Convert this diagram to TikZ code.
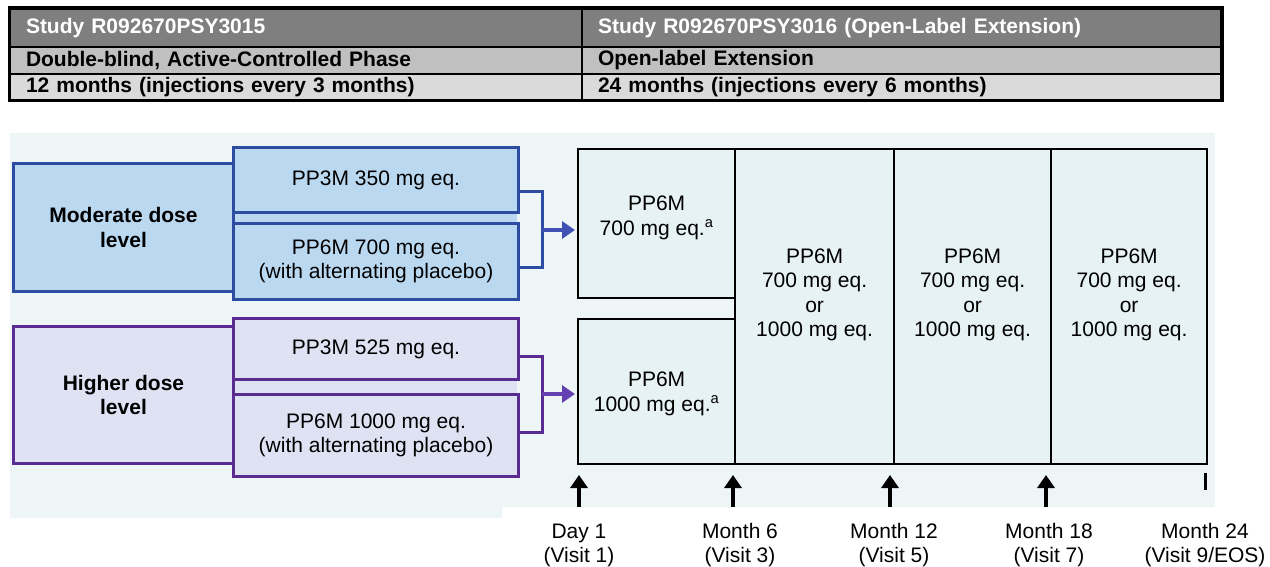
\documentclass[tikz,border=0pt]{standalone}
\usepackage{fontspec}
\setmainfont{Liberation Sans}
\usetikzlibrary{arrows.meta,calc}

\definecolor{hdrgray}{HTML}{7F7F7F}
\definecolor{rowgray}{HTML}{C0C0C0}
\definecolor{rowlight}{HTML}{DADADA}
\definecolor{panelbg}{HTML}{EEF5F7}
\definecolor{modfill}{HTML}{BBD8F1}
\definecolor{modline}{HTML}{2D4DA3}
\definecolor{modarrow}{HTML}{3F52B4}
\definecolor{hifill}{HTML}{DEE2F3}
\definecolor{hiline}{HTML}{5A2C92}
\definecolor{hiarrow}{HTML}{6440B0}
\definecolor{phasefill}{HTML}{E6F2F4}

\tikzset{
  cell/.style={draw=black, line width=2pt, anchor=north west, inner xsep=16pt,
    inner ysep=0pt, align=left, font=\fontsize{21}{24}\selectfont\bfseries},
  hdrcell/.style={cell, fill=hdrgray, text=white},
  rowcell/.style={cell, fill=rowgray},
  lightcell/.style={cell, fill=rowlight},
  modbox/.style={draw=modline, fill=modfill, line width=3pt, anchor=north west,
    inner sep=0pt, align=center},
  hibox/.style={draw=hiline, fill=hifill, line width=3pt, anchor=north west,
    inner sep=0pt, align=center},
  phase/.style={draw=black, fill=phasefill, line width=2.2pt, anchor=north west,
    inner sep=0pt},
  doselabel/.style={font=\fontsize{21}{24.5}\selectfont\bfseries, align=center},
  armtext/.style={font=\fontsize{21}{24}\selectfont},
  phasetext/.style={font=\fontsize{21}{24.5}\selectfont, align=center},
  visitlabel/.style={font=\fontsize{21}{24}\selectfont, align=center},
  modbracket/.style={draw=modline, line width=3pt},
  hibracket/.style={draw=hiline, line width=3pt},
  modflow/.style={draw=modarrow, line width=4pt, -{Triangle[length=13pt,width=17pt]}},
  hiflow/.style={draw=hiarrow, line width=4pt, -{Triangle[length=13pt,width=17pt]}},
  visitarrow/.style={draw=black, line width=3.5pt, -{Triangle[length=13pt,width=17pt]}}
}

\begin{document}
\begin{tikzpicture}[x=1pt, y=-1pt]
\useasboundingbox (0,0) rectangle (1270,567);

% ---- study header table ----
\node[hdrcell, minimum width=572pt, minimum height=38pt, text width=540pt] (s1) at (9,8) {Study R092670PSY3015};
\node[hdrcell, minimum width=639pt, minimum height=38pt, text width=607pt] (s2) at (581,8) {Study R092670PSY3016 (Open-Label Extension)};
\node[rowcell, minimum width=572pt, minimum height=27pt, text width=540pt] (p1) at (9,46) {Double-blind, Active-Controlled Phase};
\node[rowcell, minimum width=639pt, minimum height=27pt, text width=607pt] (p2) at (581,46) {Open-label Extension};
\node[lightcell, minimum width=572pt, minimum height=26pt, text width=540pt] (d1) at (9,73) {12 months (injections every 3 months)};
\node[lightcell, minimum width=639pt, minimum height=26pt, text width=607pt] (d2) at (581,73) {24 months (injections every 6 months)};
\draw[line width=3pt] (s1.north west) rectangle (d2.south east);

% ---- panel background ----
\fill[panelbg] (10,133) -- (1215,133) -- (1215,507) -- (502,507) -- (502,518) -- (10,518) -- cycle;

% ---- moderate dose arms ----
\fill[modfill] (232,211) rectangle (517,222);
\node[modbox, minimum width=220pt, minimum height=128pt] (mod) at (12,162) {};
\node[doselabel] at (mod.center) {Moderate dose\\level};
\node[modbox, minimum width=285pt, minimum height=65pt, armtext] (m1) at (232,146) {PP3M 350 mg eq.};
\node[modbox, minimum width=285pt, minimum height=76pt, armtext] (m2) at (232,222) {PP6M 700 mg eq.\\(with alternating placebo)};

% ---- higher dose arms ----
\fill[hifill] (232,378) rectangle (517,393);
\node[hibox, minimum width=220pt, minimum height=137pt] (hi) at (12,325) {};
\node[doselabel] at (hi.center) {Higher dose\\level};
\node[hibox, minimum width=285pt, minimum height=61pt, armtext] (h1) at (232,317) {PP3M 525 mg eq.};
\node[hibox, minimum width=285pt, minimum height=82pt, armtext] (h2) at (232,393) {PP6M 1000 mg eq.\\(with alternating placebo)};

% ---- extension phase grid ----
\node[phase, minimum width=157pt, minimum height=149pt] (c1a) at (577,148) {};
\node[phase, minimum width=157pt, minimum height=145pt] (c1b) at (577,318) {};
\node[phase, minimum width=159pt, minimum height=315pt] (c2) at (734,148) {};
\node[phase, minimum width=157pt, minimum height=315pt] (c3) at (893,148) {};
\node[phase, minimum width=156pt, minimum height=315pt] (c4) at (1050,148) {};

\node[phasetext] (t1a) at ($(c1a.center)+(0,-6)$) {PP6M\\700 mg eq.\textsuperscript{a}};
\node[phasetext] (t1b) at ($(c1b.center)+(0,2)$) {PP6M\\1000 mg eq.\textsuperscript{a}};
\node[phasetext] (t2) at ($(c2.center)+(0,-12)$) {PP6M\\700 mg eq.\\or\\1000 mg eq.};
\node[phasetext] (t3) at ($(c3.center)+(0,-12)$) {PP6M\\700 mg eq.\\or\\1000 mg eq.};
\node[phasetext] (t4) at ($(c4.center)+(0,-12)$) {PP6M\\700 mg eq.\\or\\1000 mg eq.};

% ---- brackets joining arms to the extension ----
\coordinate (mt) at (m1.east |- 0,192);
\coordinate (mb) at (m2.east |- 0,267);
\coordinate (mj) at (542,230);
\draw[modbracket] (mt) -- (mt -| mj) -- (mb -| mj) -- (mb);
\draw[modflow] (mj) -- ($(c1a.west |- mj)+(-2,0)$);

\coordinate (ht) at (h1.east |- 0,356);
\coordinate (hb) at (h2.east |- 0,432);
\coordinate (hj) at (542,394);
\draw[hibracket] (ht) -- (ht -| hj) -- (hb -| hj) -- (hb);
\draw[hiflow] (hj) -- ($(c1b.west |- hj)+(-2,0)$);

% ---- visit timeline ----
\node[visitlabel] (v1) at (579,545) {Day 1\\(Visit 1)};
\node[visitlabel] (v3) at (740,545) {Month 6\\(Visit 3)};
\node[visitlabel] (v5) at (894,545) {Month 12\\(Visit 5)};
\node[visitlabel] (v7) at (1049,545) {Month 18\\(Visit 7)};
\node[visitlabel] (v9) at (1205,545) {Month 24\\(Visit 9/EOS)};

\foreach \n/\x in {a1/579, a3/733, a5/890, a7/1046} {
  \coordinate (\n tail) at (\x,507);
  \coordinate (\n head) at (\x,475);
  \draw[visitarrow] (\n tail) -- (\n head);
}
\coordinate (eostop) at (1205,473);
\coordinate (eosbot) at (1205,490);
\draw[line width=3pt] (eostop) -- (eosbot);
\end{tikzpicture}
\end{document}
